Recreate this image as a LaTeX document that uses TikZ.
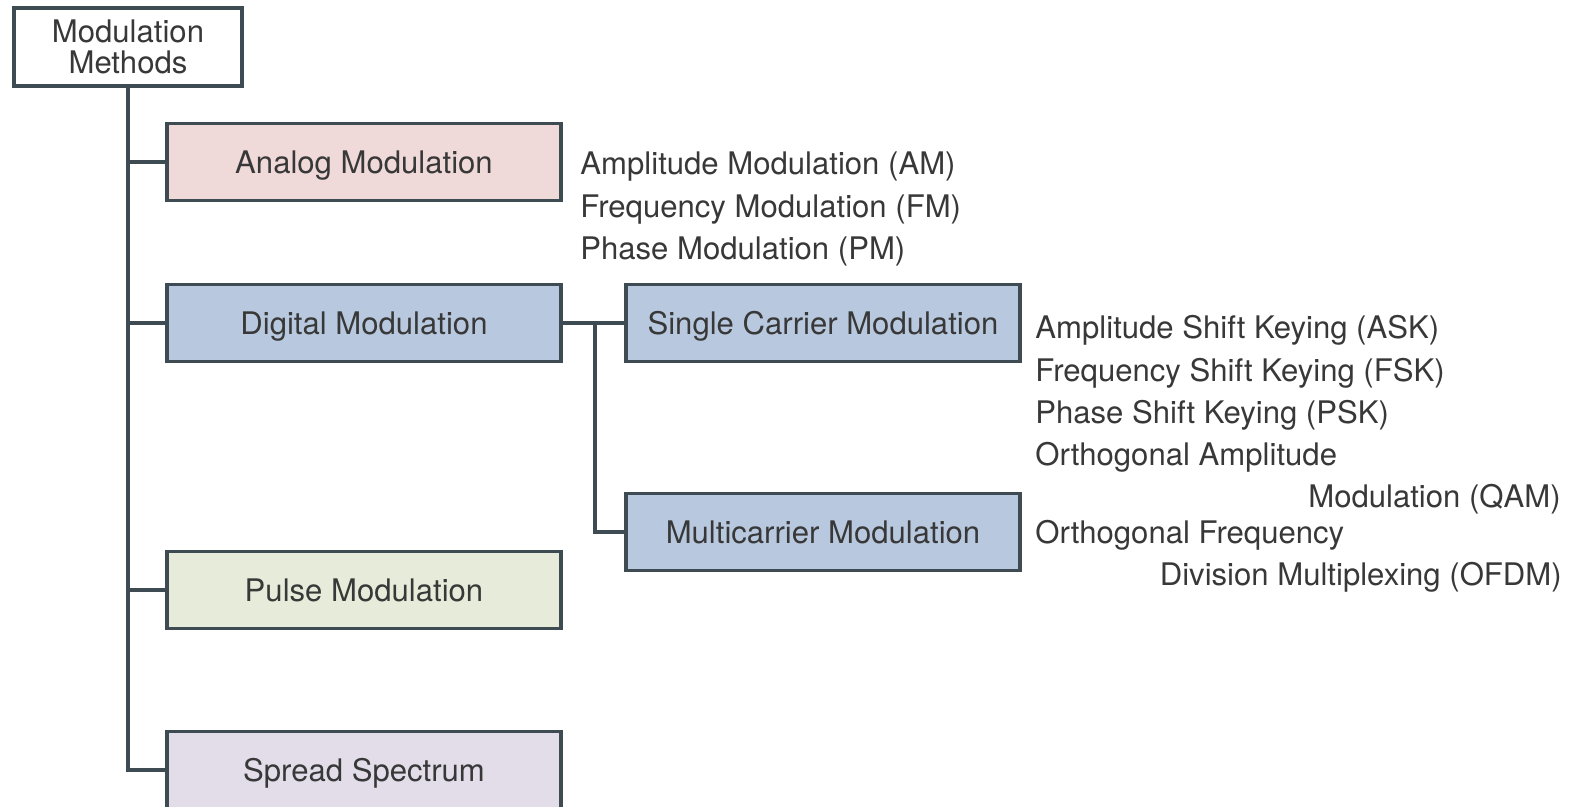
\documentclass[tikz,border=0pt]{standalone}
\usepackage{fontspec}
\setmainfont{TeX Gyre Heros}
\usepackage{xcolor}
\usepackage{tikz}
\usetikzlibrary{positioning,calc}

\definecolor{linegray}{HTML}{3F4B53}
\definecolor{txtgray}{HTML}{383838}
\definecolor{analogfill}{HTML}{EFD9D9}
\definecolor{digitalfill}{HTML}{B8C9DF}
\definecolor{pulsefill}{HTML}{E7EBDA}
\definecolor{spreadfill}{HTML}{E3DDEA}

\begin{document}
\begin{tikzpicture}[
      x=0.02cm, y=-0.02cm,
      every node/.style={text=txtgray, font=\fontsize{17.7pt}{23.8pt}\selectfont},
      box/.style={draw=linegray, line width=2.1pt, rectangle, minimum height=1.54cm, minimum width=7.88cm, inner sep=0pt, text height=12.7pt, text depth=0pt, align=center},
      rootbox/.style={draw=linegray, line width=2.1pt, rectangle, minimum height=1.56cm, minimum width=4.56cm, inner sep=0pt, align=center, font=\fontsize{17.7pt}{17.6pt}\selectfont},
      item/.style={anchor=base west, inner sep=0pt},
      itemr/.style={anchor=base east, inner sep=0pt},
      conn/.style={draw=linegray, line width=2.1pt},
    ]
    \useasboundingbox (0,0) rectangle (1572,807);
    \node[rootbox, fill=white] (root) at (128,47) {Modulation\\Methods};
    \node[box, fill=analogfill] (analog) at (364,162) {Analog Modulation};
    \node[box, fill=digitalfill] (digital) at (364,323) {Digital Modulation};
    \node[box, fill=pulsefill] (pulse) at (364,590) {Pulse Modulation};
    \node[box, fill=spreadfill] (spread) at (364,770) {Spread Spectrum};
    \node[box, fill=digitalfill] (single) at (823,323) {Single Carrier Modulation};
    \node[box, fill=digitalfill] (multi) at (823,532) {Multicarrier Modulation};
    % analog techniques
    \node[item] (am) at (580,175) {Amplitude Modulation (AM)};
    \node[item] (fm) at (580,218) {Frequency Modulation (FM)};
    \node[item] (pm) at (580,260) {Phase Modulation (PM)};
    % single carrier techniques
    \node[item] (ask) at (1035,339) {Amplitude Shift Keying (ASK)};
    \node[item] (fsk) at (1035,381) {Frequency Shift Keying (FSK)};
    \node[item] (psk) at (1035,423) {Phase Shift Keying (PSK)};
    \node[item] (qam1) at (1035,465) {Orthogonal Amplitude};
    \node[itemr] (qam2) at (1561,507) {Modulation (QAM)};
    % multicarrier techniques
    \node[item] (ofdm1) at (1035,543) {Orthogonal Frequency};
    \node[itemr] (ofdm2) at (1562,585) {Division Multiplexing (OFDM)};
    \coordinate (split) at (595,323);
    \draw[conn] (root.south) |- (analog.west);
    \draw[conn] (root.south) |- (digital.west);
    \draw[conn] (root.south) |- (pulse.west);
    \draw[conn] (root.south) |- (spread.west);
    \draw[conn] (digital.east) -- (single.west);
    \draw[conn] (split) |- (multi.west);
  \end{tikzpicture}
\end{document}
